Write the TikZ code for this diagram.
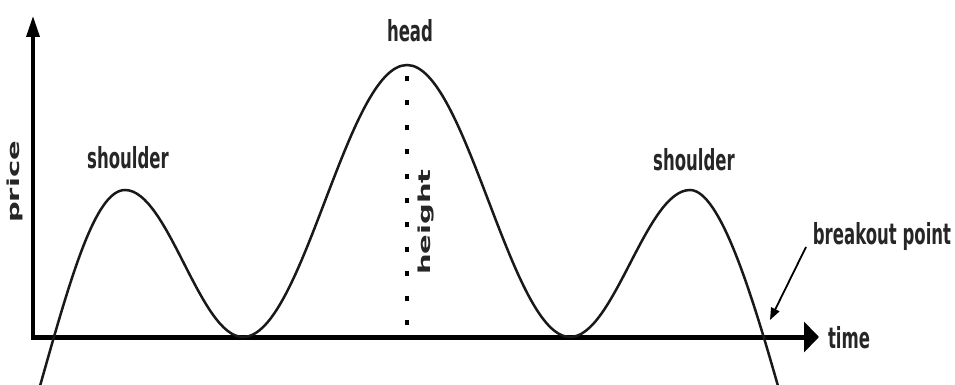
\documentclass[tikz,border=0pt]{standalone}
\usepackage{fontspec}
\usepackage{graphicx}
\setmainfont{DejaVu Sans}
\usetikzlibrary{arrows.meta}
\newcommand{\sqh}[1]{\scalebox{0.57}[1]{#1}}
\newcommand{\sqv}[1]{\scalebox{1}[0.57]{#1}}
\begin{document}
\begin{tikzpicture}[x=1pt,y=-1pt,
  lbl/.style={font=\fontsize{29}{32}\selectfont\bfseries, inner sep=0pt, text=black!85},
  curve/.style={line width=2.5pt, black!90},
  yaxis/.style={line width=3.5pt, line cap=rect, -{Triangle[length=21pt,width=13pt]}},
  xaxis/.style={line width=5pt, line cap=rect, -{Triangle[length=15pt,width=30pt]}},
  dotline/.style={line width=4pt, line cap=butt, dash pattern=on 5pt off 19.4pt},
  pointer/.style={line width=1.8pt, -{Triangle[length=12pt,width=9pt]}}
]
\useasboundingbox (0,0) rectangle (955,385);
\fill[white] (0,0) rectangle (955,385);
% axes
\coordinate (O) at (33,337);
\coordinate (ytop) at (33,16);
\coordinate (xend) at (819,337);
\draw[yaxis] (O) -- (ytop);
\draw[xaxis] (O) -- (xend);
% curve
\coordinate (s0) at (40,386);
\coordinate (p1) at (125,190);
\coordinate (t1) at (243,337);
\coordinate (p2) at (407,65);
\coordinate (t2) at (570,337);
\coordinate (p3) at (690,190);
\coordinate (s1) at (778,386);
\draw[curve] (s0) .. controls (70,280) and (95,190) .. (p1)
  .. controls (168,190) and (200,337) .. (t1)
  .. controls (303,337) and (347,65) .. (p2)
  .. controls (466,65) and (511,337) .. (t2)
  .. controls (614,337) and (646,190) .. (p3)
  .. controls (720,190) and (752,295) .. (s1);
% height
\coordinate (htop) at (407,76);
\coordinate (hbot) at (407,325);
\draw[dotline] (htop) -- (hbot);
% labels
\node[lbl] (price) at (15,182) [rotate=90] {\sqv{price}};
\node[lbl] (sh1) at (128,158) {\sqh{shoulder}};
\node[lbl] (head) at (410,31) {\sqh{head}};
\node[lbl] (height) at (426,222) [rotate=90] {\sqv{height}};
\node[lbl] (sh2) at (694,160) {\sqh{shoulder}};
\node[lbl] (time) at (849,338) {\sqh{time}};
\node[lbl] (brk) at (882,236) {\sqh{breakout point}};
\coordinate (brktip) at (770,320);
\draw[pointer] (806,247) -- (brktip);
\end{tikzpicture}
\end{document}
